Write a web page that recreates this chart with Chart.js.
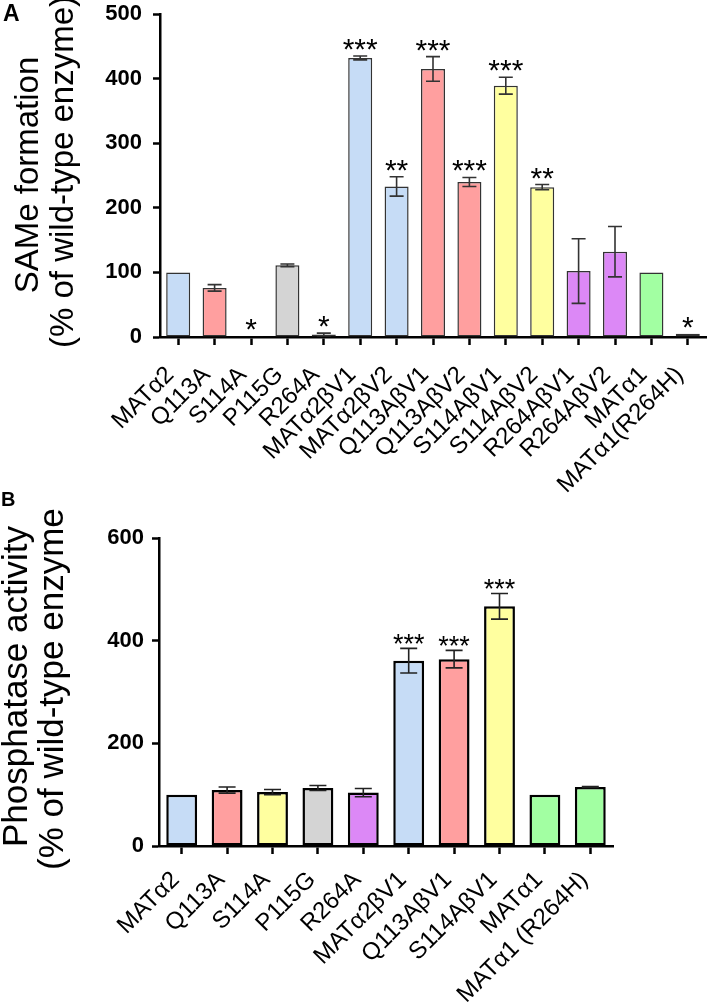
<!DOCTYPE html>
<html><head><meta charset="utf-8">
<script src="https://cdn.jsdelivr.net/npm/chart.js@4.4.1/dist/chart.umd.min.js"></script>
<style>
html,body{margin:0;padding:0;background:#fff;}
body{width:709px;height:1006px;position:relative;overflow:hidden;font-family:"Liberation Sans",Arial,sans-serif;}
#ca{position:absolute;left:0;top:0;}
#cb{position:absolute;left:0;top:480px;}
.lab{position:absolute;font-weight:bold;color:#000;line-height:1;}
</style></head><body>
<canvas id="ca" width="709" height="505"></canvas>
<canvas id="cb" width="709" height="526"></canvas>
<div class="lab" style="left:3px;top:2px;font-size:23px;">A</div>
<div class="lab" style="left:1px;top:489px;font-size:20px;">B</div>
<script>
// ---------- Panel A data ----------
const categoriesA = ['MATα2','Q113A','S114A','P115G','R264A','MATα2βV1','MATα2βV2','Q113AβV1','Q113AβV2','S114AβV1','S114AβV2','R264AβV1','R264AβV2','MATα1','MATα1(R264H)'];
const valuesA = [100, 76, 1, 111, 4, 432, 233, 415, 240, 389, 232, 102, 132, 100, 5];
const errorsA = [0, 5, 0, 2, 2, 3, 15, 19, 7, 13, 4, 50, 39, 0, 0];
const starsA = ['', '', '*', '', '*', '***', '**', '***', '***', '***', '**', '', '', '', '*'];
const yTicksA = [0, 100, 200, 300, 400, 500];

// ---------- Panel B data ----------
const categoriesB = ['MATα2','Q113A','S114A','P115G','R264A','MATα2βV1','Q113AβV1','S114AβV1','MATα1','MATα1 (R264H)'];
const valuesB = [100, 109, 105, 113, 104, 361, 364, 467, 100, 115];
const errorsB = [0, 6, 5, 5, 8, 24, 17, 25, 0, 1];
const starsB = ['', '', '', '', '', '***', '***', '***', '', ''];
const yTicksB = [0, 200, 400, 600];

// colours per group
const C = {blue:'#c6dcf6', red:'#ff9f9f', yellow:'#ffff9f', gray:'#d4d4d4', purple:'#dc88f6', green:'#a2ffa2'};
const colorsA = [C.blue, C.red, C.yellow, C.gray, C.purple, C.blue, C.blue, C.red, C.red, C.yellow, C.yellow, C.purple, C.purple, C.green, C.green];
const colorsB = [C.blue, C.red, C.yellow, C.gray, C.purple, C.blue, C.red, C.yellow, C.green, C.green];

const FONT = '"Liberation Sans", Arial, sans-serif';

const errPlugin = {
  id: 'err',
  afterDatasetsDraw(chart) {
    const o = chart.options.plugins.err;
    const ctx = chart.ctx, y = chart.scales.y;
    const meta = chart.getDatasetMeta(0);
    ctx.save();
    meta.data.forEach((bar, i) => {
      const v = o.values[i], e = o.errors[i];
      let top = y.getPixelForValue(v);
      if (e > 0) {
        const yh = y.getPixelForValue(v + e), yl = y.getPixelForValue(v - e);
        ctx.strokeStyle = o.color; ctx.lineWidth = o.lw;
        ctx.beginPath();
        ctx.moveTo(bar.x, yh); ctx.lineTo(bar.x, yl);
        ctx.moveTo(bar.x - o.cap/2, yh); ctx.lineTo(bar.x + o.cap/2, yh);
        ctx.moveTo(bar.x - o.cap/2, yl); ctx.lineTo(bar.x + o.cap/2, yl);
        ctx.stroke();
        top = yh;
      }
      const s = o.stars[i];
      if (s) {
        ctx.fillStyle = '#000';
        ctx.font = o.starSize + 'px ' + FONT;
        ctx.textAlign = 'center'; ctx.textBaseline = 'alphabetic';
        ctx.fillText(s, bar.x, top + o.starOffset);
      }
    });
    ctx.restore();
  }
};

const titlePlugin = {
  id: 'ytitle',
  afterDraw(chart) {
    const o = chart.options.plugins.ytitle;
    const ctx = chart.ctx;
    ctx.save();
    ctx.fillStyle = '#000';
    ctx.font = o.size + 'px ' + FONT;
    ctx.textBaseline = 'alphabetic';
    ctx.textAlign = o.align;
    o.lines.forEach((t, i) => {
      ctx.save();
      ctx.translate(o.xs[i], o.ys[i]);
      ctx.rotate(-Math.PI/2);
      ctx.fillText(t, 0, 0);
      ctx.restore();
    });
    ctx.restore();
  }
};

function makeChart(id, cfg) {
  return new Chart(document.getElementById(id), {
    type: 'bar',
    data: { labels: cfg.labels, datasets: [{
      data: cfg.values, backgroundColor: cfg.colors, borderColor: cfg.border,
      borderWidth: cfg.bw, barPercentage: cfg.barPct, categoryPercentage: 1, borderSkipped: false
    }]},
    options: {
      responsive: false, animation: false, devicePixelRatio: 1,
      layout: { padding: cfg.padding },
      plugins: {
        legend: {display: false}, tooltip: {enabled: false},
        err: { values: cfg.values, errors: cfg.errors, stars: cfg.stars, color: cfg.errColor, lw: cfg.errLw, cap: cfg.cap, starSize: cfg.starSize, starOffset: cfg.starOffset },
        ytitle: cfg.title
      },
      scales: {
        x: {
          grid: { display: true, drawOnChartArea: false, drawTicks: true, tickLength: 8, tickWidth: 2.5, tickColor: '#000', offset: false },
          border: { display: true, color: '#000', width: 2.5 },
          ticks: { color: '#000', font: {family: FONT, size: cfg.xFont}, minRotation: 45, maxRotation: 45, padding: cfg.xPad, labelOffset: cfg.xOff, autoSkip: false },
          afterFit: s => { s.height = cfg.xHeight; s.paddingLeft = 0; s.paddingRight = 0; }
        },
        y: {
          min: 0, max: cfg.yMax,
          afterBuildTicks: s => { s.ticks = cfg.yTicks.map(v => ({value: v})); },
          grid: { display: true, drawOnChartArea: false, drawTicks: true, tickLength: 7, tickWidth: 2.5, tickColor: '#000' },
          border: { display: true, color: '#000', width: 2.5 },
          ticks: { color: '#000', font: {family: FONT, size: 22, weight: 'bold'}, padding: cfg.yPad },
          afterFit: s => { s.width = cfg.yWidth; s.paddingTop = 0; s.paddingBottom = 0; }
        }
      }
    },
    plugins: [errPlugin, titlePlugin]
  });
}

makeChart('ca', {
  labels: categoriesA, values: valuesA, errors: errorsA, stars: starsA, colors: colorsA, yTicks: yTicksA, yMax: 500,
  border: '#333', bw: 1.5, barPct: 0.66, padding: {top: 14, right: 3, left: 0, bottom: 0},
  errColor: '#333', errLw: 1.6, cap: 14, starSize: 30, starOffset: 3,
  xFont: 24, xPad: 16, xOff: -8, xHeight: 168, yWidth: 160, yPad: 11,
  title: { lines: ['SAMe formation', '(% of wild-type enzyme)'], xs: [38, 73], ys: [175, 172], size: 33, align: 'center' }
});

makeChart('cb', {
  labels: categoriesB, values: valuesB, errors: errorsB, stars: starsB, colors: colorsB, yTicks: yTicksB, yMax: 600,
  border: '#000', bw: 2.5, barPct: 0.68, padding: {top: 58, right: 96, left: 0, bottom: 0},
  errColor: '#222', errLw: 1.6, cap: 17, starSize: 27, starOffset: 5,
  xFont: 24, xPad: 12, xOff: -6, xHeight: 160, yWidth: 159, yPad: 8,
  title: { lines: ['Phosphatase activity', '(% of wild-type enzyme'], xs: [27, 63], ys: [367, 390], size: 35, align: 'left' }
});
</script>
</body></html>
